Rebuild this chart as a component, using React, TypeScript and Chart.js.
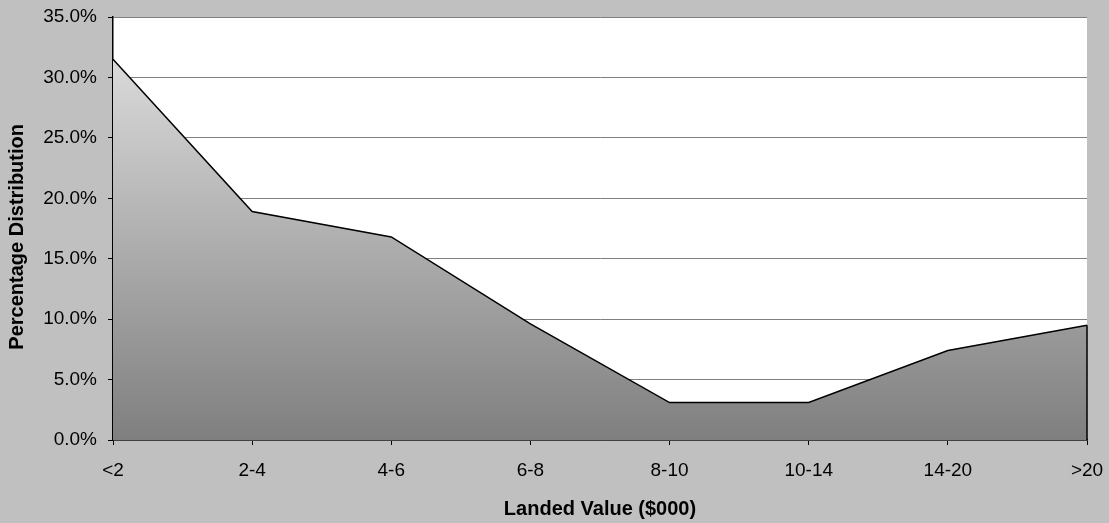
import React, { useEffect, useRef } from "react";
import { Chart, registerables } from "chart.js";

Chart.register(...registerables);

const categories = ["<2", "2-4", "4-6", "6-8", "8-10", "10-14", "14-20", ">20"];
const distribution = [31.5, 18.9, 16.8, 9.6, 3.1, 3.1, 7.4, 9.5];
const yTicksMax = 35;
const yTickStep = 5;
const xTitle = "Landed Value ($000)";
const yTitle = "Percentage Distribution   ";

const plotBg = {
  id: "plotBg",
  beforeDraw(chart: any) {
    const { ctx, chartArea } = chart;
    if (!chartArea) return;
    ctx.save();
    ctx.fillStyle = "#ffffff";
    ctx.fillRect(chartArea.left, chartArea.top, chartArea.right - chartArea.left, chartArea.bottom - chartArea.top);
    ctx.restore();
  },
};

const areaEdge = {
  id: "areaEdge",
  afterDatasetsDraw(chart: any) {
    const meta = chart.getDatasetMeta(0);
    if (!meta || !meta.data.length) return;
    const last = meta.data[meta.data.length - 1];
    const yScale = chart.scales.y;
    const ctx = chart.ctx;
    ctx.save();
    ctx.strokeStyle = "#000000";
    ctx.lineWidth = 1.5;
    ctx.beginPath();
    ctx.moveTo(last.x, last.y);
    ctx.lineTo(last.x, yScale.getPixelForValue(0));
    ctx.stroke();
    ctx.restore();
  },
};

export default function App() {
  const ref = useRef<HTMLCanvasElement | null>(null);

  useEffect(() => {
    document.body.style.margin = "0";
    const canvas = ref.current;
    if (!canvas) return;
    Chart.defaults.font.family = "'Liberation Sans', Arial, sans-serif";
    Chart.defaults.font.size = 19;
    Chart.defaults.color = "#000000";

    const chart = new Chart(canvas, {
      type: "line",
      data: {
        labels: categories,
        datasets: [
          {
            data: distribution,
            borderColor: "#000000",
            borderWidth: 1.5,
            pointRadius: 0,
            tension: 0,
            fill: "origin",
            backgroundColor: (context: any) => {
              const ca = context.chart.chartArea;
              if (!ca) return "#aaaaaa";
              const g = context.chart.ctx.createLinearGradient(0, ca.top, 0, ca.bottom);
              g.addColorStop(0, "#e4e4e4");
              g.addColorStop(1, "#7f7f7f");
              return g;
            },
          },
        ],
      },
      options: {
        animation: false,
        responsive: false,
        maintainAspectRatio: false,
        layout: { padding: { top: 17, right: 22, bottom: 0, left: 0 } },
        plugins: {
          legend: { display: false },
          tooltip: { enabled: false },
        },
        scales: {
          x: {
            offset: false,
            grid: {
              drawOnChartArea: false,
              tickLength: 5,
              tickColor: "#000000",
              lineWidth: 1,
            },
            border: { color: "#000000", width: 1.5 },
            ticks: { padding: 14, maxRotation: 0, autoSkip: false, font: { size: 19 } },
            title: {
              display: true,
              text: xTitle,
              font: { size: 20, weight: "bold" },
              padding: { top: 0, bottom: 2 },
            },
            afterFit(scale: any) {
              scale.height = 83;
              scale.paddingLeft = 0;
              scale.paddingRight = 0;
            },
          },
          y: {
            min: 0,
            max: yTicksMax,
            grid: {
              color: "#808080",
              lineWidth: 1,
              tickLength: 5,
              tickColor: "#000000",
            },
            border: { color: "#000000", width: 1.5 },
            ticks: {
              stepSize: yTickStep,
              padding: 11,
              font: { size: 19 },
              callback: (v: any) => Number(v).toFixed(1) + "%",
            },
            title: {
              display: true,
              text: yTitle,
              font: { size: 20, weight: "bold" },
              padding: { top: 5, bottom: 0 },
            },
            afterFit(scale: any) {
              scale.width = 113;
              scale.paddingTop = 0;
              scale.paddingBottom = 0;
            },
          },
        },
      },
      plugins: [plotBg, areaEdge],
    });
    return () => chart.destroy();
  }, []);

  return (
    <div style={{ width: 1109, height: 523, background: "#c0c0c0" }}>
      <canvas ref={ref} width={1109} height={523} style={{ display: "block" }} />
    </div>
  );
}
